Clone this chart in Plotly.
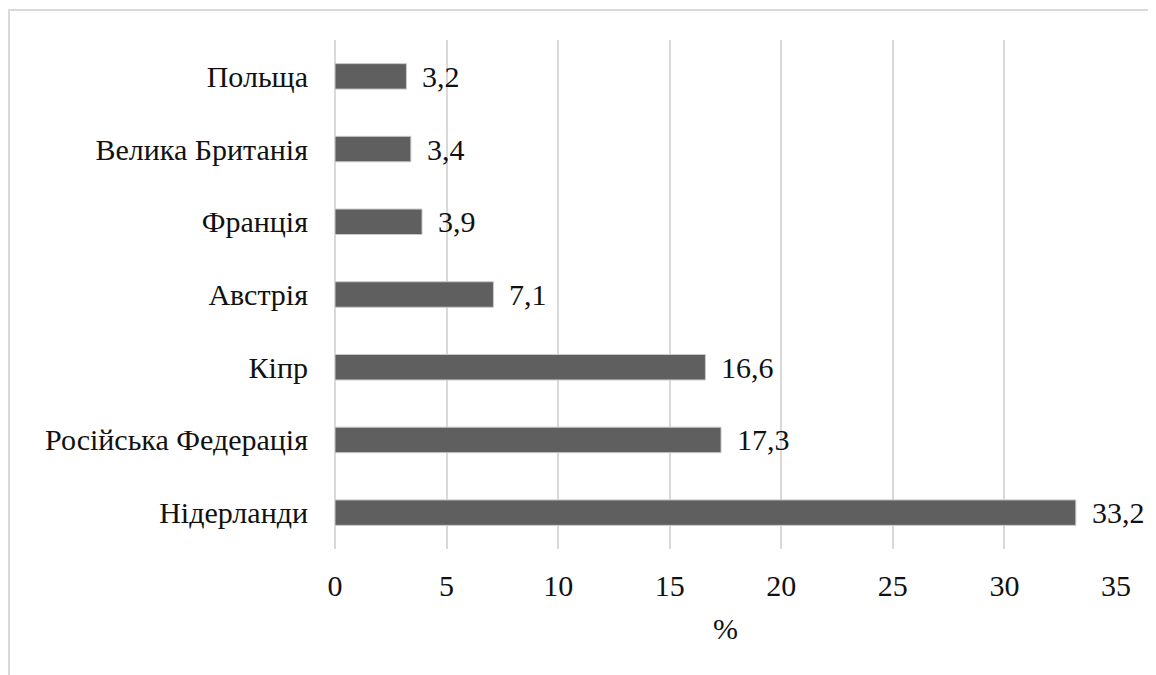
import plotly.graph_objects as go

countries = ["Нідерланди", "Російська Федерація", "Кіпр", "Австрія", "Франція", "Велика Британія", "Польща"]
values = [33.2, 17.3, 16.6, 7.1, 3.9, 3.4, 3.2]
x_ticks = [0, 5, 10, 15, 20, 25, 30, 35]
x_title = "%"

FONT = "Liberation Serif, Times New Roman, serif"
FS = 30

labels = [f"{v:.1f}".replace(".", ",") for v in values]

fig = go.Figure()
fig.add_trace(go.Bar(
    x=values, y=countries, orientation="h",
    marker=dict(color="#5f5f5f", line=dict(color="#c8c8c8", width=1)),
    width=0.35,
    hoverinfo="skip",
))

for v, c, t in zip(values, countries, labels):
    fig.add_annotation(x=v, y=c, text=t, xanchor="left", yanchor="middle",
                       xshift=14, showarrow=False,
                       font=dict(family=FONT, size=FS, color="#111111"))

# page has an 8px body margin
W, H = 1148, 667
ml, mr, mt, mb = 327, 40, 32, 126
pw, ph = W - ml - mr, H - mt - mb
fx0 = (1 - ml) / pw
fx1 = (W + 20 - ml) / pw
fy1 = 1 + (mt - 2) / ph
fy0 = -(mb + 20) / ph
fig.add_shape(type="rect", xref="paper", yref="paper", x0=fx0, x1=fx1, y0=fy0, y1=fy1,
              line=dict(color="#d9d9d9", width=2), fillcolor="rgba(0,0,0,0)", layer="below")

fig.update_layout(
    width=W, height=H,
    margin=dict(l=ml, r=mr, t=mt, b=mb),
    paper_bgcolor="white", plot_bgcolor="white",
    font=dict(family=FONT, size=FS, color="#111111"),
    showlegend=False,
)
fig.update_xaxes(
    range=[0, 35], tickvals=x_ticks, ticktext=[str(t) for t in x_ticks],
    showgrid=True, gridcolor="#d9d9d9", gridwidth=2,
    zeroline=True, zerolinecolor="#d9d9d9", zerolinewidth=2,
    showline=False, ticks="", ticklabelstandoff=16,
    title=dict(text=x_title, standoff=16, font=dict(family=FONT, size=FS)),
    tickfont=dict(family=FONT, size=FS, color="#111111"),
)
fig.update_yaxes(
    showgrid=False, showline=False, ticks="", ticklabelstandoff=26,
    tickfont=dict(family=FONT, size=FS, color="#111111"),
)

fig.write_html("out.html")
